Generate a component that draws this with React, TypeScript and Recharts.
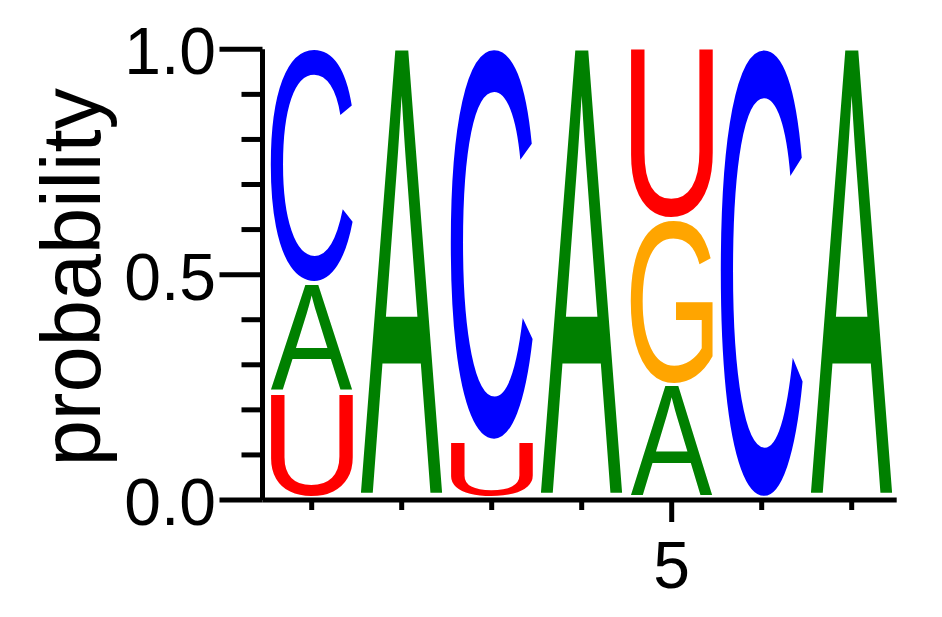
import React from 'react';
import { BarChart, Bar, XAxis, YAxis } from 'recharts';

// ---- data ----
const positions = [1, 2, 3, 4, 5, 6, 7];
// stacked from bottom (slot1) to top (slot3)
const slot1Letters = ['U', 'A', 'U', 'A', 'A', 'C', 'A'];
const slot1Values = [0.233, 1.0, 0.127, 1.0, 0.251, 1.0, 1.0];
const slot2Letters = ['A', '', 'C', '', 'G', '', ''];
const slot2Values = [0.244, 0, 0.873, 0, 0.368, 0, 0];
const slot3Letters = ['C', '', '', '', 'U', '', ''];
const slot3Values = [0.523, 0, 0, 0, 0.381, 0, 0];

const yTicks = [0, 0.1, 0.2, 0.3, 0.4, 0.5, 0.6, 0.7, 0.8, 0.9, 1.0];
const yMajorTicks = [0, 0.5, 1.0];
const xMajorTicks = [5];
const yTitle = 'probability';

const letterColors: Record<string, string> = {
  A: '#008000',
  C: '#0000ff',
  G: '#ffa500',
  U: '#ff0000',
};

const data = positions.map((p, i) => ({
  pos: p,
  s1: slot1Values[i],
  l1: slot1Letters[i],
  s2: slot2Values[i],
  l2: slot2Letters[i],
  s3: slot3Values[i],
  l3: slot3Letters[i],
}));

// ---- styling ----
const FONT = '"Liberation Sans", Arial, Helvetica, sans-serif';
const AXIS_W = 5;
const MFS = 200;
const GAP = 4;

type GM = { l: number; r: number; a: number; d: number };
const fallback: Record<string, GM> = {
  A: { l: 0.5, r: 133.5, a: 143.2, d: 0 },
  C: { l: -10, r: 138, a: 146, d: 2.5 },
  G: { l: -9.5, r: 145, a: 146, d: 2.5 },
  U: { l: -16, r: 128, a: 143.2, d: 2.5 },
};
const cache: Record<string, GM> = {};
function glyphMetrics(ch: string): GM {
  if (cache[ch]) return cache[ch];
  let m: GM | null = null;
  try {
    const c = document.createElement('canvas');
    const ctx = c.getContext('2d');
    if (ctx) {
      ctx.font = `${MFS}px ${FONT}`;
      const t = ctx.measureText(ch);
      m = {
        l: t.actualBoundingBoxLeft,
        r: t.actualBoundingBoxRight,
        a: t.actualBoundingBoxAscent,
        d: t.actualBoundingBoxDescent,
      };
    }
  } catch (e) {
    m = null;
  }
  if (!m || !(m.l + m.r > 1) || !(m.a + m.d > 1)) m = fallback[ch] || fallback.A;
  cache[ch] = m;
  return m;
}

function makeLetterShape(letterKey: string) {
  return (props: any) => {
    const { x, y, width, height, payload } = props;
    const ch = payload ? payload[letterKey] : '';
    if (!ch || !(height > GAP + 1)) return <g />;
    const m = glyphMetrics(ch);
    const inkH = height - GAP;
    const sx = width / (m.l + m.r);
    const sy = inkH / (m.a + m.d);
    return (
      <text
        transform={`translate(${x},${y}) scale(${sx},${sy})`}
        x={m.l}
        y={m.a}
        fontFamily={FONT}
        fontSize={MFS}
        fill={letterColors[ch]}
      >
        {ch}
      </text>
    );
  };
}

function XTick(props: any) {
  const { x, y, payload } = props;
  const major = xMajorTicks.includes(payload.value);
  return (
    <g>
      <line x1={x} x2={x} y1={y} y2={y + (major ? 22 : 10)} stroke="#000" strokeWidth={AXIS_W} />
      {major && (
        <text x={x} y={y + 88} textAnchor="middle" fontSize={66} fontFamily={FONT} fill="#000">
          {String(payload.value)}
        </text>
      )}
    </g>
  );
}

function YTick(props: any) {
  const { x, y, payload } = props;
  const major = yMajorTicks.some((t) => Math.abs(t - payload.value) < 1e-6);
  return (
    <g>
      <line x1={x - (major ? 43 : 21)} x2={x} y1={y} y2={y} stroke="#000" strokeWidth={AXIS_W} />
      {major && (
        <text x={x - 46.5} y={y + 25} textAnchor="end" fontSize={66} fontFamily={FONT} fill="#000">
          {Number(payload.value).toFixed(1)}
        </text>
      )}
    </g>
  );
}

function YTitle(props: any) {
  const vb = props.viewBox || { y: 49.3, height: 450.7 };
  const cx = 100;
  const cy = vb.y + vb.height / 2 + 2.5;
  return (
    <text
      x={cx}
      y={cy}
      transform={`rotate(-90 ${cx} ${cy})`}
      textAnchor="middle"
      fontSize={83}
      fontFamily={FONT}
      fill="#000"
    >
      {yTitle}
    </text>
  );
}

export default function App() {
  return (
    <div style={{ position: 'absolute', left: 0, top: 0, width: 942, height: 617, background: '#fff' }}>
      <BarChart
        width={942}
        height={617}
        data={data}
        margin={{ top: 49.3, right: 45.3, bottom: 0, left: 0 }}
        barCategoryGap={4}
      >
        <XAxis
          dataKey="pos"
          type="category"
          interval={0}
          tick={<XTick />}
          tickLine={false}
          tickSize={0}
          tickMargin={0}
          height={117}
          padding={{ left: 4.2, right: 0 }}
          axisLine={{ stroke: '#000', strokeWidth: AXIS_W }}
        />
        <YAxis
          type="number"
          domain={[0, 1]}
          ticks={yTicks}
          interval={0}
          width={262.5}
          tick={<YTick />}
          tickLine={false}
          tickSize={0}
          tickMargin={0}
          axisLine={{ stroke: '#000', strokeWidth: AXIS_W }}
          label={<YTitle />}
        />
        <Bar dataKey="s1" stackId="a" isAnimationActive={false} shape={makeLetterShape('l1')} />
        <Bar dataKey="s2" stackId="a" isAnimationActive={false} shape={makeLetterShape('l2')} />
        <Bar dataKey="s3" stackId="a" isAnimationActive={false} shape={makeLetterShape('l3')} />
      </BarChart>
    </div>
  );
}
